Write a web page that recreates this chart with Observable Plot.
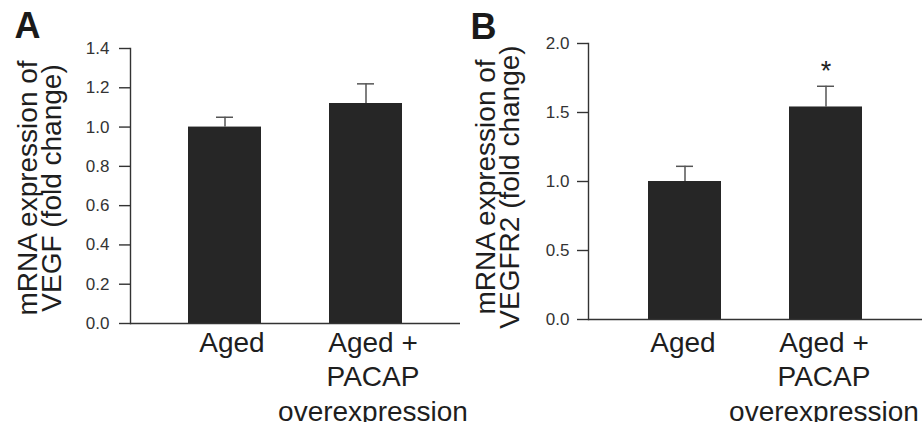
<!DOCTYPE html>
<html>
<head>
<meta charset="utf-8">
<script src="https://cdn.jsdelivr.net/npm/d3@7"></script>
<script src="https://cdn.jsdelivr.net/npm/@observablehq/plot@0.6"></script>
<style>
  html, body { margin: 0; padding: 0; background: #fff; }
  #wrap { position: relative; width: 924px; height: 422px; overflow: hidden; background: #fff; }
  #panelA, #panelB { position: absolute; top: 0; }
  #panelA { left: 0; z-index: 2; }
  #panelB { left: 460px; z-index: 1; }
</style>
</head>
<body>
<div id="wrap">
  <div id="panelA"></div>
  <div id="panelB"></div>
</div>
<script>
// ---- data ----
const categories = ["Aged", "Aged + PACAP overexpression"];
const categoryLabels = ["Aged", "Aged +\nPACAP\noverexpression"];

const vegfMean = [1.00, 1.12];
const vegfErr = [0.05, 0.10];
const vegfSig = ["", ""];
const vegfTicks = [0.0, 0.2, 0.4, 0.6, 0.8, 1.0, 1.2, 1.4];

const vegfr2Mean = [1.00, 1.54];
const vegfr2Err = [0.11, 0.15];
const vegfr2Sig = ["", "*"];
const vegfr2Ticks = [0.0, 0.5, 1.0, 1.5, 2.0];

const panelLetters = ["A", "B"];
const yTitles = ["mRNA expression of\nVEGF (fold change)", "mRNA expression of\nVEGFR2 (fold change)"];

const FONT = "'Liberation Sans', Arial, Helvetica, sans-serif";
const INK = "#262626";
const AXIS = "#333333";

function rows(mean, err, sig) {
  return categories.map((c, i) => ({cat: c, label: categoryLabels[i], mean: mean[i], hi: mean[i] + err[i], sig: sig[i]}));
}

function panel(cfg) {
  const data = rows(cfg.mean, cfg.err, cfg.sig);
  const labelOf = new Map(data.map(d => [d.cat, d.label]));
  return Plot.plot({
    width: cfg.width,
    height: 422,
    marginLeft: cfg.ml,
    marginRight: cfg.mr,
    marginTop: cfg.mt,
    marginBottom: cfg.mb,
    style: {fontFamily: FONT, color: "#222", background: "transparent", overflow: "visible"},
    x: {domain: categories, paddingInner: cfg.pi, paddingOuter: cfg.po, axis: null},
    y: {domain: cfg.domain, axis: null},
    marks: [
      // error bars (drawn behind the bars)
      Plot.ruleX(data, {x: "cat", y1: "mean", y2: "hi", stroke: "#555", strokeWidth: 1.5}),
      Plot.tickY(data, {x: "cat", y: "hi", stroke: "#555", strokeWidth: 1.5, insetLeft: 28, insetRight: 28}),
      Plot.barY(data, {x: "cat", y: "mean", fill: INK}),
      // significance
      Plot.text(data, {x: "cat", y: "hi", text: "sig", fontSize: 27, dy: -15, fill: "#222"}),
      // axes
      Plot.axisY({ticks: cfg.ticks, tickFormat: d3.format(".1f"), tickSize: 11, tickPadding: cfg.tp,
                  fontSize: 17, stroke: AXIS, strokeWidth: 1.4, fill: "#333", label: null}),
      Plot.frame({anchor: "left", stroke: AXIS, strokeWidth: 1.4}),
      Plot.ruleY([0], {stroke: AXIS, strokeWidth: 1.4}),
      Plot.axisX({tickSize: 0, tickPadding: cfg.xtp, fontSize: 28, lineHeight: 1.23, label: null,
                  tickFormat: d => labelOf.get(d), dx: cfg.xdx, fill: "#1e1e1e"}),
      // y-axis title
      Plot.text([cfg.title], {frameAnchor: "left", textAnchor: "middle", lineAnchor: "middle", rotate: -90,
                  fontSize: 28, lineHeight: 0.85, dx: cfg.tdx, dy: cfg.tdy, fill: "#1e1e1e"}),
      // panel letter
      Plot.text([cfg.letter], {frameAnchor: "top-left", textAnchor: "start", lineAnchor: "middle",
                  fontSize: 36, fontWeight: "bold", dx: cfg.ldx, dy: cfg.ldy, fill: "#1a1a1a"})
    ]
  });
}

document.getElementById("panelA").appendChild(panel({
  width: 460, ml: 130, mr: 0, mt: 48, mb: 99,
  pi: 0.484, po: 0.408, domain: [0, 1.4], ticks: vegfTicks, tp: 10, xtp: 4, xdx: 7,
  mean: vegfMean, err: vegfErr, sig: vegfSig,
  title: yTitles[0], tdx: -89, tdy: 2, letter: panelLetters[0], ldx: -116, ldy: -22
}));

document.getElementById("panelB").appendChild(panel({
  width: 464, ml: 128, mr: 2, mt: 43, mb: 103,
  pi: 0.48, po: 0.42, domain: [0, 2.0], ticks: vegfr2Ticks, tp: 8, xtp: 8, xdx: -2,
  mean: vegfr2Mean, err: vegfr2Err, sig: vegfr2Sig,
  title: yTitles[1], tdx: -89, tdy: 5.5, letter: panelLetters[1], ldx: -118, ldy: -16.5
}));
</script>
</body>
</html>
